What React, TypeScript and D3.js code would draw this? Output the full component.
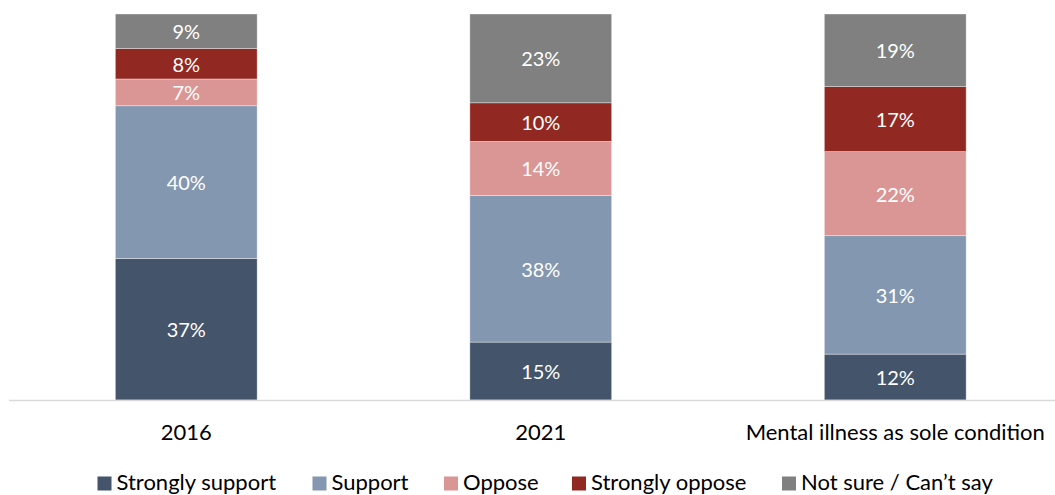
import React from "react";
import * as d3 from "d3";

const categories = ["2016", "2021", "Mental illness as sole condition"];
const seriesNames = ["Strongly support", "Support", "Oppose", "Strongly oppose", "Not sure / Can\u2019t say"];
const stronglySupport = [37, 15, 12];
const support = [40, 38, 31];
const oppose = [7, 14, 22];
const stronglyOppose = [8, 10, 17];
const notSure = [9, 23, 19];
const colors = ["#44546A", "#8497B0", "#DA9694", "#922822", "#808080"];

const W = 1055;
const H = 495;
const FONT = "Lato, 'Open Sans', sans-serif";

export default function App() {
  const seriesValues = [stronglySupport, support, oppose, stronglyOppose, notSure];
  const rows = categories.map((c, i) => {
    const r: any = { cat: c };
    seriesNames.forEach((s, k) => (r[s] = seriesValues[k][i]));
    return r;
  });
  const stack = d3.stack<any>().keys(seriesNames).offset(d3.stackOffsetExpand);
  const layers = stack(rows);

  const x = d3.scaleBand<string>().domain(categories).range([9, 1072.5]).paddingInner(0.6).paddingOuter(0.3);
  const y = d3.scaleLinear().domain([0, 1]).range([400, 14]);

  const legendX = [97.5, 312.5, 444, 572, 782];

  return (
    <svg width={W} height={H} style={{ position: "absolute", left: 0, top: 0 }} fontFamily={FONT}>
      <rect x={0} y={0} width={W} height={H} fill="#fff" />
      {layers.map((layer, k) =>
        layer.map((d, i) => {
          const cat = categories[i];
          const y0 = y(d[0]);
          const y1 = y(d[1]);
          return (
            <g key={`${k}-${i}`}>
              <rect
                x={x(cat)!}
                y={y1}
                width={x.bandwidth()}
                height={y0 - y1}
                fill={colors[k]}
                stroke="rgba(255,255,255,0.45)"
                strokeWidth={0.8}
              />
              <text
                x={x(cat)! + x.bandwidth() / 2}
                y={(y0 + y1) / 2}
                dy="0.4em"
                textAnchor="middle"
                fill="#fff"
                fontSize={20}
              >
                {seriesValues[k][i]}%
              </text>
            </g>
          );
        })
      )}
      <line x1={9} x2={W} y1={400.5} y2={400.5} stroke="#D9D9D9" strokeWidth={1.5} />
      {categories.map((c) => (
        <text key={c} x={x(c)! + x.bandwidth() / 2} y={439.5} textAnchor="middle" fill="#000" fontSize={22}>
          {c}
        </text>
      ))}
      {seriesNames.map((s, k) => (
        <g key={s}>
          <rect x={legendX[k]} y={476.5} width={14} height={14} fill={colors[k]} />
          <text x={legendX[k] + 19} y={490.3} fill="#000" fontSize={22}>
            {s}
          </text>
        </g>
      ))}
    </svg>
  );
}
